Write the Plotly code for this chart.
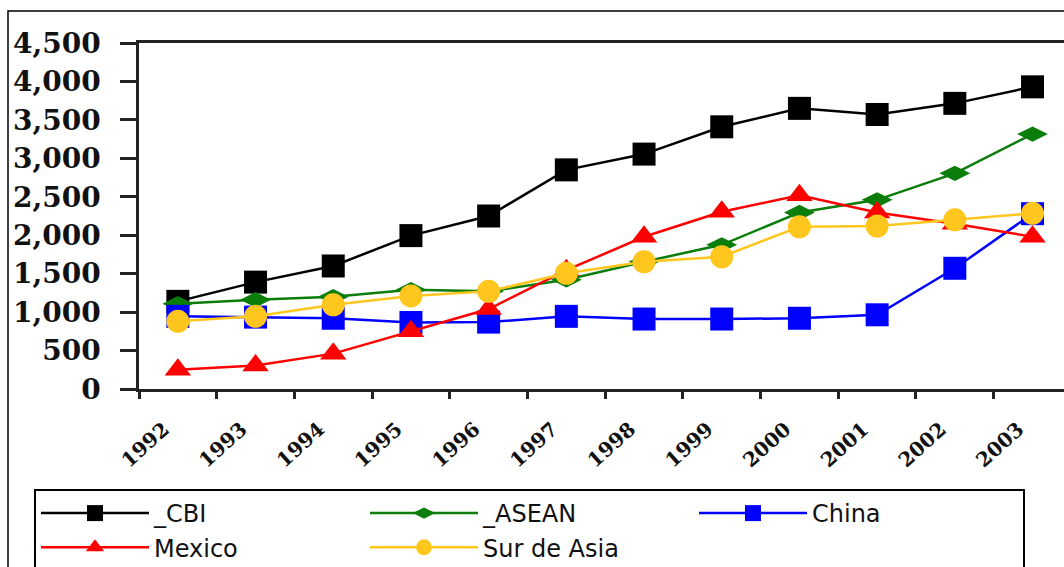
import plotly.graph_objects as go

years = ['1992', '1993', '1994', '1995', '1996', '1997',
         '1998', '1999', '2000', '2001', '2002', '2003']
cbi = [1140, 1390, 1600, 1995, 2250, 2850, 3055, 3410, 3650, 3570, 3715, 3930]
asean = [1110, 1160, 1200, 1290, 1270, 1420, 1655, 1875, 2295, 2460, 2805, 3315]
china = [945, 935, 920, 865, 870, 945, 910, 910, 920, 965, 1570, 2280]
mexico = [250, 305, 460, 750, 1040, 1545, 1980, 2305, 2520, 2295, 2150, 1980]
sur_asia = [880, 945, 1095, 1210, 1270, 1505, 1655, 1720, 2110, 2120, 2200, 2285]

names = ['_CBI', '_ASEAN', 'China', 'Mexico', 'Sur de Asia']
values = [cbi, asean, china, mexico, sur_asia]
colors = ['#000000', '#0A7D0A', '#0000FF', '#FF0000', '#FFC61E']
symbols = ['square', 'diamond-wide', 'square', 'triangle-up', 'circle']
sizes = [23, 22, 23, 23, 23]

W, H = 1064, 567
ML, MR, MT, MB = 139, 0, 43, 178
PW, PH = W - ML - MR, H - MT - MB

fig = go.Figure()
for n, v, c, s, sz in zip(names, values, colors, symbols, sizes):
    fig.add_trace(go.Scatter(
        x=years, y=v, name=n, mode='lines+markers',
        line=dict(color=c, width=2.5),
        marker=dict(symbol=s, size=sz, color=c, line=dict(width=0)),
    ))

def px_x(p):
    return (p - ML) / PW

def px_y(p):
    return (H - MB - p) / PH

fig.add_shape(type='rect', xref='paper', yref='paper',
              x0=px_x(8), x1=px_x(1200), y0=px_y(700), y1=px_y(11),
              line=dict(color='#000000', width=1.5), fillcolor='rgba(0,0,0,0)',
              layer='below')

fig.update_layout(
    width=W, height=H,
    margin=dict(l=ML, r=MR, t=MT, b=MB, pad=0, autoexpand=False),
    paper_bgcolor='white', plot_bgcolor='white',
    showlegend=True,
    legend=dict(
        orientation='h', x=px_x(34), y=px_y(489), xanchor='left', yanchor='top',
        bordercolor='#000000', borderwidth=2, bgcolor='white',
        font=dict(family='DejaVu Sans', size=24, color='#111111'),
        itemwidth=108, entrywidth=206, entrywidthmode='pixels',
        traceorder='normal', tracegroupgap=0,
    ),
    xaxis=dict(
        type='category', range=[-0.5, 11.405],
        showline=True, linecolor='#222222', linewidth=2.5, mirror=True,
        ticks='outside', tickson='boundaries', ticklen=7, tickwidth=2.5, tickcolor='#222222',
        tickangle=-42, ticklabelstandoff=18, ticklabelshift=-14,
        tickfont=dict(family='DejaVu Serif', size=20, color='#111111', weight='bold'),
        showgrid=False, zeroline=False,
    ),
    yaxis=dict(
        range=[0, 4500], dtick=500, tick0=0, tickformat=',',
        showline=True, linecolor='#222222', linewidth=2.5, mirror=False,
        ticks='outside', ticklen=16, tickwidth=2.5, tickcolor='#222222',
        tickfont=dict(family='DejaVu Serif', size=28, color='#111111', weight='bold'),
        showgrid=False, zeroline=False, ticklabelstandoff=14,
    ),
)

fig.write_html('out.html', config={'displayModeBar': False},
               post_script="document.body.style.margin='0';document.body.style.overflow='hidden';")
